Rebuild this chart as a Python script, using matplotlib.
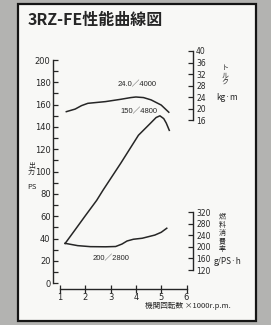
import matplotlib
matplotlib.use("Agg")
import matplotlib.pyplot as plt
from matplotlib.patches import Rectangle
from matplotlib.ticker import FixedLocator

# ---------------- data (rpm in x1000) ----------------
rpm_torque = [1.25, 1.6, 1.85, 2.1, 2.8, 3.4, 3.8, 4.0, 4.3, 4.6, 5.0, 5.3]
torque = [18.9, 19.8, 21.0, 21.8, 22.4, 23.2, 23.8, 24.0, 23.8, 23.0, 21.2, 18.7]

rpm_power = [1.2, 1.6, 2.0, 2.45, 2.7, 3.4, 4.1, 4.56, 4.8, 4.95, 5.1, 5.2, 5.32]
power = [35.6, 48.0, 60.5, 74.3, 83.4, 107.5, 132.6, 143.0, 148.5, 150.0, 147.5, 143.5, 137.0]

rpm_fuel = [1.2, 1.7, 2.2, 2.8, 3.2, 3.45, 3.65, 3.9, 4.25, 4.75, 5.0, 5.22]
fuel = [212, 204, 200.5, 200, 201, 209.5, 220, 226, 229.5, 240.5, 250, 264]

x_ticks = [1, 2, 3, 4, 5, 6]
ps_ticks = list(range(0, 201, 20))
ps_minor = list(range(10, 200, 20))
torque_ticks = [16, 20, 24, 28, 32, 36, 40]
fuel_ticks = [120, 160, 200, 240, 280, 320]

title = "3RZ-FE性能曲線図"
lbl_torque_peak = "24.0／4000"
lbl_power_peak = "150／4800"
lbl_fuel_min = "200／2800"
x_label = "機関回転数 ×1000r.p.m."
ps_label = ["出", "力"]
torque_label = ["ト", "ル", "ク"]
fuel_label = ["燃", "料", "消", "費", "率"]

# ---------------- layout helpers (pixel anchors) ----------------
W, H = 271, 325
fig = plt.figure(figsize=(W / 100, H / 100), dpi=100)
fig.patch.set_facecolor("#b3b3b1")

# paper
fig.add_artist(Rectangle((18 / W, 1 - 321 / H), (256 - 18) / W, (321 - 4) / H,
                         transform=fig.transFigure, facecolor="#f8f8f6",
                         edgecolor="#151515", lw=1.6, zorder=0))

ax_l, ax_r, ax_t, ax_b = 53.3, 193.3, 45.0, 289.0
ax = fig.add_axes([ax_l / W, 1 - ax_b / H, (ax_r - ax_l) / W, (ax_b - ax_t) / H])
ax.patch.set_alpha(0)

def rpm_at(px):
    return 1 + (px - 60.0) / 25.3

def ps_at(py):
    return (283.3 - py) / 1.1165

def tq_at(py):
    return 40 - (py - 51.0) / 2.875

def fu_at(py):
    return 120 + (270.0 - py) / 0.29

ax.set_xlim(rpm_at(ax_l), rpm_at(ax_r))
ax.set_ylim(ps_at(ax_b), ps_at(ax_t))

axt = ax.twinx()
axt.set_ylim(tq_at(ax_b), tq_at(ax_t))
axf = ax.twinx()
axf.set_ylim(fu_at(ax_b), fu_at(ax_t))

ink = "#262626"
tfont = ["Liberation Sans", "Noto Sans CJK JP"]
plt.rcParams["font.family"] = tfont

# spines
for s in ["top", "right"]:
    ax.spines[s].set_visible(False)
ax.spines["left"].set_bounds(0, 200)
ax.spines["bottom"].set_bounds(1, 6)
for s in ["left", "bottom"]:
    ax.spines[s].set_color(ink)
    ax.spines[s].set_linewidth(1.0)

for a, lo, hi in [(axt, 16, 40), (axf, 120, 320)]:
    for s in ["top", "left", "bottom"]:
        a.spines[s].set_visible(False)
    a.spines["right"].set_bounds(lo, hi)
    a.spines["right"].set_color(ink)
    a.spines["right"].set_linewidth(1.0)
    a.patch.set_alpha(0)

ax.set_xticks(x_ticks)
ax.set_yticks(ps_ticks)
ax.yaxis.set_minor_locator(FixedLocator(ps_minor))
ax.tick_params(axis="y", which="both", direction="in", length=3.5, width=0.9,
               colors=ink, labelsize=6, pad=2)
ax.tick_params(axis="x", direction="inout", length=6, width=0.9,
               colors=ink, labelsize=6, pad=0)
axt.set_yticks(torque_ticks)
axf.set_yticks(fuel_ticks)
for a in (axt, axf):
    a.tick_params(axis="y", direction="in", length=3.5, width=0.9,
                  colors=ink, labelsize=5.5, pad=2)

# curves
ax.plot(rpm_power, power, color=ink, lw=1.1)
axt.plot(rpm_torque, torque, color=ink, lw=1.1)
axf.plot(rpm_fuel, fuel, color=ink, lw=1.1)

# annotations
ax.text(rpm_at(137), ps_at(85), lbl_torque_peak, fontsize=5.5, color=ink,
        ha="center", va="center")
ax.text(rpm_at(139), ps_at(112), lbl_power_peak, fontsize=5.5, color=ink,
        ha="center", va="center")
ax.text(rpm_at(111), ps_at(259), lbl_fuel_min, fontsize=5.5, color=ink,
        ha="center", va="center")

def ftext(px, py, s, ha="center", **kw):
    fig.text(px / W, 1 - py / H, s, color=ink, ha=ha, va="center",
             family=["Noto Sans CJK JP", "DejaVu Sans"], **kw)

ftext(28, 20, title, ha="left", fontsize=11.5, fontweight="bold")
for i, ch in enumerate(ps_label):
    ftext(31.5, 166 + i * 6.8, ch, fontsize=5)
ftext(31.5, 187, "PS", fontsize=5.5)
for i, ch in enumerate(torque_label):
    ftext(225, 68 + i * 7.5, ch, fontsize=5)
ftext(227, 97, "kg·m", fontsize=6)
for i, ch in enumerate(fuel_label):
    ftext(222, 217 + i * 8.0, ch, fontsize=5)
ftext(227, 262, "g/PS·h", fontsize=6)
ftext(188, 306, x_label, fontsize=5.5)

fig.savefig("out.png", dpi=100, facecolor=fig.get_facecolor())
